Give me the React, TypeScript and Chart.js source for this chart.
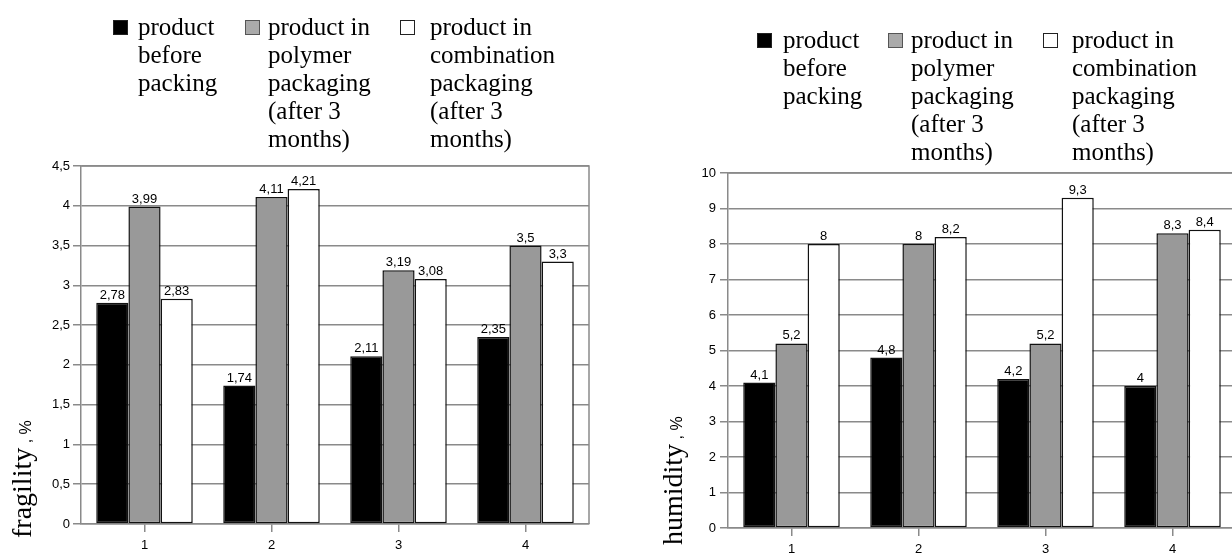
import React, { useEffect, useRef } from "react";
import { Chart, registerables } from "chart.js";

Chart.register(...registerables);

// ---------- data ----------
const categories = ["1", "2", "3", "4"];

const fragilityBefore = [2.78, 1.74, 2.11, 2.35];
const fragilityPolymer = [3.99, 4.11, 3.19, 3.5];
const fragilityCombination = [2.83, 4.21, 3.08, 3.3];
const fragilityTicks = [0, 0.5, 1, 1.5, 2, 2.5, 3, 3.5, 4, 4.5];

const humidityBefore = [4.1, 4.8, 4.2, 4];
const humidityPolymer = [5.2, 8, 5.2, 8.3];
const humidityCombination = [8, 8.2, 9.3, 8.4];
const humidityTicks = [0, 1, 2, 3, 4, 5, 6, 7, 8, 9, 10];

const legendBefore = ["product", "before", "packing"];
const legendPolymer = ["product in", "polymer", "packaging", "(after 3", "months)"];
const legendCombination = ["product in", "combination", "packaging", "(after 3", "months)"];

const seriesColors = ["#000000", "#999999", "#ffffff"];

const SANS = "'Liberation Sans', Arial, sans-serif";
const SERIF = "'Liberation Serif', 'Times New Roman', serif";

const fmt = (v: number) => String(v).replace(".", ",");

// ---------- plugins ----------
const framePlugin = {
  id: "frame",
  beforeDatasetsDraw(chart: any) {
    const { ctx, chartArea } = chart;
    const { left, top, right, bottom } = chartArea;
    ctx.save();
    ctx.strokeStyle = "#8a8a8a";
    ctx.lineWidth = 1.5;
    ctx.beginPath();
    ctx.moveTo(left, top);
    ctx.lineTo(right, top);
    ctx.lineTo(right, bottom);
    ctx.stroke();
    ctx.restore();
  },
};

const valueLabelPlugin = {
  id: "valueLabels",
  afterDatasetsDraw(chart: any) {
    const { ctx } = chart;
    ctx.save();
    ctx.font = `13px ${SANS}`;
    ctx.fillStyle = "#000";
    ctx.textAlign = "center";
    ctx.textBaseline = "bottom";
    chart.data.datasets.forEach((ds: any, i: number) => {
      const meta = chart.getDatasetMeta(i);
      meta.data.forEach((el: any, j: number) => {
        ctx.fillText(fmt(ds.data[j]), el.x, el.y - 1);
      });
    });
    ctx.restore();
  },
};

type BarChartProps = {
  left: number;
  width: number;
  height: number;
  axisWidth: number;
  padTop: number;
  padRight: number;
  xAxisHeight: number;
  before: number[];
  polymer: number[];
  combination: number[];
  ticks: number[];
  tickPad: number;
};

function BarChart(p: BarChartProps) {
  const ref = useRef<HTMLCanvasElement | null>(null);
  useEffect(() => {
    if (!ref.current) return;
    const mk = (label: string[], data: number[], color: string) => ({
      label: label.join(" "),
      data,
      backgroundColor: color,
      borderColor: "#111",
      borderWidth: 1.5,
      borderSkipped: false as any,
      categoryPercentage: 0.76,
      barPercentage: 1.0,
    });
    const chart = new Chart(ref.current, {
      type: "bar",
      data: {
        labels: categories,
        datasets: [
          mk(legendBefore, p.before, seriesColors[0]),
          mk(legendPolymer, p.polymer, seriesColors[1]),
          mk(legendCombination, p.combination, seriesColors[2]),
        ],
      },
      options: {
        animation: false,
        responsive: false,
        devicePixelRatio: 1,
        layout: { padding: { left: 0, top: p.padTop, right: p.padRight, bottom: 0 } },
        plugins: {
          legend: { display: false },
          tooltip: { enabled: false },
        },
        scales: {
          x: {
            grid: {
              display: true,
              drawOnChartArea: false,
              drawTicks: true,
              tickLength: 8,
              offset: false,
              color: "#8a8a8a",
              lineWidth: 1.5,
            },
            border: { display: true, color: "#8a8a8a", width: 1.5 },
            ticks: { font: { family: SANS, size: 13 }, color: "#000", padding: 6 },
            afterFit: (s: any) => {
              s.height = p.xAxisHeight;
            },
          },
          y: {
            min: p.ticks[0],
            max: p.ticks[p.ticks.length - 1],
            afterBuildTicks: (s: any) => {
              s.ticks = p.ticks.map((v) => ({ value: v }));
            },
            grid: {
              color: "#8a8a8a",
              lineWidth: 1.5,
              tickLength: 8,
              drawTicks: true,
            },
            border: { display: true, color: "#8a8a8a", width: 1.5 },
            ticks: {
              font: { family: SANS, size: 13 },
              color: "#000",
              padding: p.tickPad,
              callback: (v: any) => fmt(Number(v)),
            },
            afterFit: (s: any) => {
              s.width = p.axisWidth;
            },
          },
        },
      },
      plugins: [framePlugin, valueLabelPlugin],
    });
    return () => chart.destroy();
  }, []);
  return (
    <canvas
      ref={ref}
      width={p.width}
      height={p.height}
      style={{ position: "absolute", left: p.left, top: 0, width: p.width, height: p.height }}
    />
  );
}

type LegendItemProps = { boxX: number; boxY: number; textX: number; textY: number; color: string; lines: string[]; border: string };

function LegendItem(p: LegendItemProps) {
  return (
    <>
      <div
        style={{
          position: "absolute",
          left: p.boxX,
          top: p.boxY,
          width: 13,
          height: 13,
          background: p.color,
          border: `1px solid ${p.border}`,
        }}
      />
      <div
        style={{
          position: "absolute",
          left: p.textX,
          top: p.textY,
          fontFamily: SERIF,
          fontSize: 25,
          lineHeight: "28px",
          color: "#000",
          whiteSpace: "nowrap",
        }}
      >
        {p.lines.map((l, i) => (
          <div key={i}>{l}</div>
        ))}
      </div>
    </>
  );
}

function Legend({ y0, boxXs, textXs }: { y0: number; boxXs: number[]; textXs: number[] }) {
  const all = [legendBefore, legendPolymer, legendCombination];
  const borders = ["#222", "#555", "#222"];
  const fills = ["#000", "#aaaaaa", "#fff"];
  return (
    <>
      {all.map((lines, i) => (
        <LegendItem
          key={i}
          boxX={boxXs[i]}
          boxY={y0 + 7}
          textX={textXs[i]}
          textY={y0}
          color={fills[i]}
          border={borders[i]}
          lines={lines}
        />
      ))}
    </>
  );
}

function YTitle({ x, y, main }: { x: number; y: number; main: string }) {
  return (
    <div
      style={{
        position: "absolute",
        left: x,
        top: y,
        transform: "rotate(-90deg)",
        transformOrigin: "0 0",
        whiteSpace: "nowrap",
        fontFamily: SERIF,
        fontSize: 28,
        lineHeight: "28px",
        color: "#000",
      }}
    >
      {main}
      <span style={{ fontFamily: SANS, fontSize: 16 }}> , %</span>
    </div>
  );
}

export default function App() {
  return (
    <div
      style={{
        position: "fixed",
        left: 0,
        top: 0,
        width: 1232,
        height: 553,
        overflow: "hidden",
        background: "#fff",
      }}
    >
      <BarChart
        left={0}
        width={615}
        height={553}
        axisWidth={81}
        padTop={166}
        padRight={26}
        xAxisHeight={29}
        before={fragilityBefore}
        polymer={fragilityPolymer}
        combination={fragilityCombination}
        ticks={fragilityTicks}
        tickPad={3}
      />
      <BarChart
        left={620}
        width={640}
        height={553}
        axisWidth={108}
        padTop={173}
        padRight={24}
        xAxisHeight={25}
        before={humidityBefore}
        polymer={humidityPolymer}
        combination={humidityCombination}
        ticks={humidityTicks}
        tickPad={4}
      />
      <Legend y0={13} boxXs={[113, 245, 400]} textXs={[138, 268, 430]} />
      <Legend y0={26} boxXs={[757, 888, 1043]} textXs={[783, 911, 1072]} />
      <YTitle x={8} y={538} main="fragility" />
      <YTitle x={659} y={545} main="humidity" />
    </div>
  );
}
